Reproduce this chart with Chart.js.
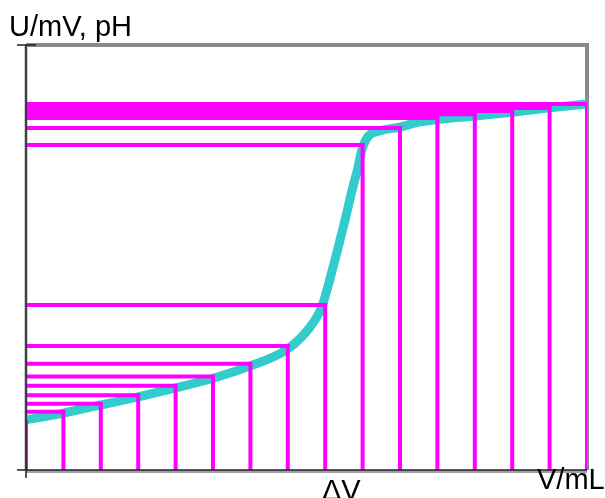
<!DOCTYPE html>
<html>
<head>
<meta charset="utf-8">
<script src="https://cdn.jsdelivr.net/npm/chart.js@4/dist/chart.umd.min.js"></script>
<style>
  html, body { margin: 0; padding: 0; background: #fff; }
  #chart { display: block; }
</style>
</head>
<body>
<canvas id="chart" width="605" height="498"></canvas>
<script>
// titration steps: added volume and the reading at each step
const volume = [0, 1, 2, 3, 4, 5, 6, 7, 8, 9, 10, 11, 12, 13, 14, 15];
const potential = [11.8, 13.7, 15.6, 17.6, 19.8, 22.0, 25.0, 29.2, 38.8, 76.5, 80.5, 82.8, 83.7, 84.5, 85.2, 86.1];

// points
const curveV = [0, 1, 2, 3, 4, 5, 6, 7, 7.59, 7.91, 8.07, 8.31, 8.53, 8.74, 8.86, 8.98, 9.14, 9.47, 10, 10.53, 11, 12, 13, 14, 15];
const curveU = [11.8, 13.4, 15.3, 17.2, 19.3, 21.6, 24.5, 28.5, 33.6, 38.4, 43.1, 51.1, 58.8, 66.6, 70.6, 75.3, 78.4, 79.8, 80.7, 81.9, 82.5, 83.3, 84.2, 85.2, 86.1];

const yLabel = 'U/mV, pH';
const xLabel = 'V/mL';
const stepLabel = 'ΔV';

// each step: line from the y axis to the point, then down to the x axis
const steps = [];
volume.forEach((v, i) => {
  steps.push({ x: 0, y: potential[i] }, { x: v, y: potential[i] }, { x: v, y: 0 }, { x: v, y: null });
});

const frame = {
  id: 'frame',
  beforeDatasetsDraw(chart) {
    const { ctx, chartArea: a } = chart;
    ctx.save();
    ctx.strokeStyle = '#8a8a8a';
    ctx.lineWidth = 4;
    ctx.beginPath();
    ctx.moveTo(a.left, a.top);
    ctx.lineTo(a.right, a.top);
    ctx.lineTo(a.right, a.bottom);
    ctx.stroke();
    ctx.lineWidth = 3;
    ctx.strokeStyle = '#a0a0a0';
    ctx.beginPath();
    ctx.moveTo(a.left, a.top);
    ctx.lineTo(a.left, a.bottom);
    ctx.moveTo(a.left, a.bottom + 1.5);
    ctx.lineTo(a.right, a.bottom + 1.5);
    ctx.stroke();
    ctx.restore();
  },
  afterDraw(chart) {
    const { ctx, chartArea: a } = chart;
    ctx.save();
    ctx.strokeStyle = '#222';
    ctx.lineWidth = 1.5;
    ctx.beginPath();
    ctx.moveTo(a.left - 9, a.top);
    ctx.lineTo(a.left + 10, a.top);
    ctx.moveTo(a.left, a.top);
    ctx.lineTo(a.left, a.bottom + 8);
    ctx.moveTo(a.left - 9, a.bottom);
    ctx.lineTo(a.right, a.bottom);
    ctx.stroke();
    ctx.fillStyle = '#000';
    ctx.font = '29px "Liberation Sans", Arial, sans-serif';
    ctx.textBaseline = 'alphabetic';
    ctx.fillText(yLabel, 9, 36);
    ctx.fillText(xLabel, 537, 489);
    ctx.fillText(stepLabel, 322, 500);
    ctx.restore();
  }
};

new Chart(document.getElementById('chart'), {
  type: 'line',
  data: {
    datasets: [
      { label: 'steps', data: steps, borderColor: '#ff00ff', borderWidth: 4, pointRadius: 0, tension: 0, spanGaps: false },
      { label: 'curve', data: curveV.map((v, i) => ({ x: v, y: curveU[i] })), borderColor: '#33cccc', borderWidth: 9, pointRadius: 0, cubicInterpolationMode: 'monotone' },
    ],
  },
  options: {
    responsive: false,
    animation: false,
    layout: { padding: { left: 26, right: 18, top: 45, bottom: 28 } },
    plugins: { legend: { display: false }, tooltip: { enabled: false } },
    scales: {
      x: { type: 'linear', min: 0, max: 15, display: false },
      y: { min: 0, max: 100, display: false },
    },
  },
  plugins: [frame],
});
</script>
</body>
</html>
